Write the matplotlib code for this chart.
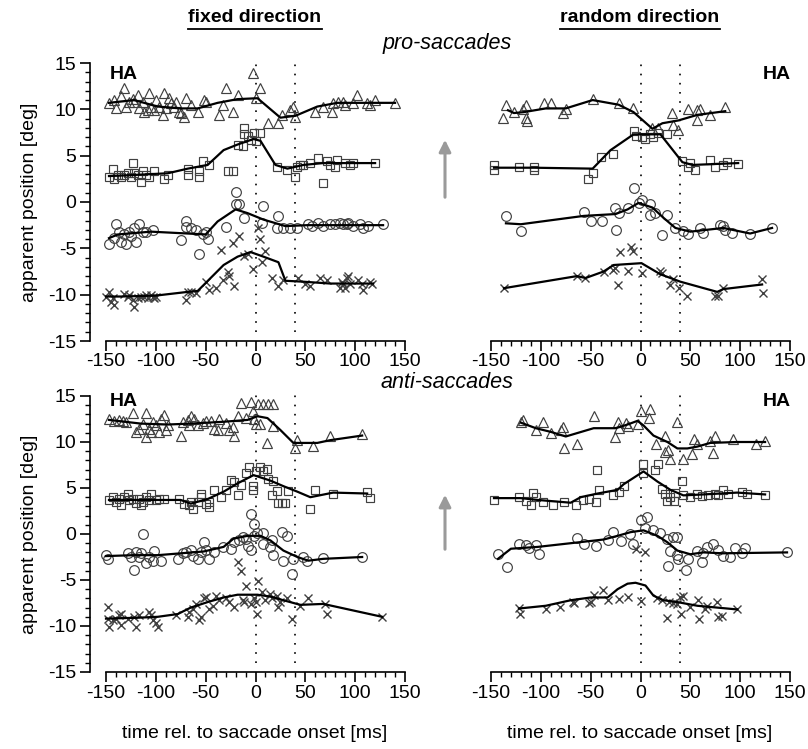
import matplotlib.pyplot as plt
from matplotlib.lines import Line2D
from matplotlib.patches import FancyArrowPatch
from matplotlib.ticker import MultipleLocator

plt.rcParams['font.family'] = ['Liberation Sans Narrow', 'Liberation Sans', 'DejaVu Sans']
plt.rcParams['axes.unicode_minus'] = False

# ---------------- pro-saccades, fixed direction (top left) ----------------
tl_tri = [(-147, 10.7), (-142, 11.0), (-140, 10.1), (-135, 11.4), (-132, 12.3), (-130, 10.3),
          (-127, 10.8), (-123, 11.1), (-122, 10.8), (-118, 11.6), (-117, 10.1), (-113, 10.8),
          (-112, 9.7), (-108, 9.9), (-107, 11.8), (-105, 10.3), (-102, 9.9), (-100, 11.0),
          (-97, 10.3), (-93, 9.4), (-92, 11.8), (-90, 10.1), (-87, 11.2), (-85, 10.7),
          (-82, 10.3), (-80, 10.8), (-77, 9.7), (-75, 9.6), (-72, 9.2), (-70, 11.2),
          (-65, 10.5), (-58, 9.7), (-52, 11.0), (-50, 10.8), (-37, 9.4), (-33, 10.5),
          (-30, 12.3), (-23, 9.7), (-18, 11.6), (-3, 13.9), (0, 11.2), (5, 12.3),
          (13, 8.5), (23, 8.5), (27, 9.4), (35, 9.9), (38, 10.3), (40, 9.2),
          (60, 9.7), (68, 10.3), (77, 9.7), (78, 10.7), (83, 10.8), (88, 10.8),
          (90, 10.5), (98, 10.7), (102, 11.6), (112, 10.7), (115, 10.5), (120, 11.0), (140, 10.7)]
tl_tri_fit = [(-147, 10.7), (-122, 11.0), (-98, 10.3), (-75, 10.1), (-58, 10.1), (-38, 10.7),
              (-18, 11.1), (2, 11.2), (25, 9.1), (40, 9.3), (62, 10.3), (82, 10.7), (140, 10.7)]
tl_sq = [(-147, 2.7), (-143, 3.6), (-142, 2.5), (-138, 2.9), (-135, 2.7), (-132, 2.9),
         (-128, 3.1), (-125, 2.7), (-123, 4.2), (-122, 3.1), (-118, 2.9), (-115, 2.2),
         (-113, 3.3), (-110, 2.9), (-107, 2.7), (-102, 3.3), (-92, 2.5), (-88, 2.9),
         (-68, 3.6), (-68, 2.9), (-57, 3.3), (-57, 2.7), (-53, 4.4), (-47, 4.0),
         (-28, 3.3), (-23, 3.3), (-18, 6.2), (-13, 6.0), (-12, 8.0), (-12, 7.3),
         (-8, 7.1), (-5, 6.7), (-2, 7.5), (5, 7.5), (0, 6.6), (22, 3.8), (32, 3.4),
         (40, 2.7), (42, 3.8), (45, 4.0), (48, 4.0), (55, 4.2), (63, 4.7), (68, 2.1),
         (72, 4.4), (75, 4.0), (80, 3.8), (82, 4.5), (90, 4.2), (95, 4.0), (98, 4.2), (120, 4.2)]
tl_sq_fit = [(-147, 2.8), (-125, 2.9), (-88, 3.1), (-68, 3.6), (-48, 4.0), (-32, 5.6),
             (-18, 6.2), (-2, 6.8), (5, 6.6), (20, 4.0), (32, 3.6), (48, 4.0), (68, 4.2), (120, 4.2)]
tl_circ = [(-20, 1.1), (-20, -0.2), (-17, -0.2), (-12, -1.7), (-30, -2.7), (-57, -5.6),
           (-70, -2.0), (-70, -2.7), (-75, -4.1), (-65, -2.8), (-60, -3.0), (-53, -3.5),
           (-50, -3.2), (-48, -4.0), (-140, -2.4), (-147, -4.5), (-142, -3.9), (-137, -3.2),
           (-135, -4.3), (-132, -3.4), (-130, -4.5), (-127, -3.2), (-125, -3.7), (-122, -2.8),
           (-120, -4.3), (-117, -2.4), (-113, -3.2), (-110, -3.2), (-103, -3.0), (8, -0.4),
           (7, -2.3), (23, -1.5), (22, -2.8), (28, -2.8), (35, -2.8), (42, -2.8), (53, -2.4),
           (57, -2.6), (63, -2.3), (68, -2.6), (75, -2.4), (80, -2.4), (85, -2.3), (88, -2.4),
           (92, -2.4), (93, -2.3), (98, -2.6), (105, -2.4), (108, -2.8), (113, -2.6), (128, -2.4)]
tl_circ_fit = [(-147, -3.9), (-138, -3.5), (-105, -3.2), (-50, -3.5), (-38, -2.1), (-20, -0.8),
               (-8, -1.2), (8, -1.9), (30, -2.6), (52, -2.5), (128, -2.5)]
tl_x = [(-150, -10.2), (-147, -9.7), (-145, -10.8), (-143, -10.4), (-142, -11.1), (-132, -9.9),
        (-128, -10.2), (-127, -10.0), (-123, -10.6), (-122, -11.3), (-118, -10.4), (-115, -10.2),
        (-112, -10.2), (-110, -10.0), (-108, -10.4), (-105, -10.0), (-103, -10.2), (-102, -10.4),
        (-100, -10.2), (-70, -10.6), (-68, -9.7), (-65, -9.7), (-60, -9.8), (-50, -8.6),
        (-47, -9.5), (-40, -9.3), (-35, -5.2), (-33, -8.4), (-28, -7.5), (-27, -8.0),
        (-23, -4.4), (-22, -9.1), (-17, -3.7), (-12, -5.8), (-8, -5.6), (-3, -7.2),
        (3, -2.8), (5, -4.0), (7, -6.5), (10, -5.3), (17, -8.2), (23, -9.1), (28, -8.4),
        (43, -8.2), (50, -8.9), (55, -9.1), (65, -8.2), (72, -8.4), (85, -9.3), (87, -8.6),
        (88, -8.9), (90, -9.3), (92, -8.2), (93, -8.0), (95, -8.8), (103, -8.4), (107, -8.9),
        (108, -9.5), (115, -8.6), (117, -8.9)]
tl_x_fit = [(-150, -10.2), (-135, -10.2), (-100, -10.1), (-68, -9.7), (-58, -9.6), (-45, -8.2),
            (-32, -6.8), (-18, -5.9), (-5, -5.4), (8, -5.9), (23, -6.5), (30, -8.5),
            (48, -8.6), (75, -8.8), (118, -8.8)]

# ---------------- pro-saccades, random direction (top right) ----------------
tr_tri = [(-138, 9.1), (-135, 10.5), (-127, 9.7), (-118, 10.0), (-115, 10.5), (-115, 9.1),
          (-114, 8.7), (-97, 10.7), (-90, 10.7), (-78, 9.6), (-75, 10.0), (-48, 11.1),
          (-22, 10.7), (-8, 10.1), (12, 8.0), (18, 8.0), (32, 9.6), (33, 8.3), (38, 7.8),
          (48, 10.0), (57, 9.9), (57, 8.9), (60, 10.0), (70, 9.4), (85, 10.2)]
tr_tri_fit = [(-133, 9.9), (-127, 9.6), (-117, 9.7), (-95, 10.1), (-75, 10.1), (-48, 11.0),
              (-22, 10.5), (-7, 9.7), (12, 7.9), (22, 8.5), (38, 8.8), (57, 9.4), (85, 9.8)]
tr_sq = [(-147, 4.0), (-147, 3.4), (-122, 3.8), (-107, 3.8), (-107, 3.5), (-53, 2.5),
         (-48, 3.1), (-40, 4.9), (-28, 5.2), (-7, 7.7), (-5, 7.1), (2, 7.0), (5, 6.8),
         (10, 7.3), (13, 7.0), (18, 7.4), (27, 7.3), (42, 4.4), (48, 3.8), (50, 4.2),
         (55, 3.4), (70, 4.5), (75, 3.8), (83, 4.0), (87, 4.3), (98, 4.1)]
tr_sq_fit = [(-147, 3.7), (-107, 3.7), (-48, 3.6), (-30, 5.6), (-7, 7.3), (3, 7.3), (20, 7.3),
             (42, 4.3), (52, 4.0), (98, 4.2)]
tr_circ = [(-7, 1.5), (-135, -1.5), (-120, -3.1), (-57, -1.1), (-50, -2.0), (-39, -2.0),
           (-26, -0.6), (-22, -1.2), (-25, -3.0), (-13, -0.6), (-2, -0.1), (2, 0.2),
           (10, -0.2), (10, -1.4), (15, -1.2), (22, -3.6), (27, -1.4), (35, -2.8), (43, -3.1),
           (48, -3.4), (60, -2.8), (63, -3.3), (80, -2.5), (83, -2.6), (85, -3.0), (92, -3.3),
           (110, -3.4), (132, -2.8)]
tr_circ_fit = [(-135, -2.3), (-120, -2.4), (-57, -1.5), (-25, -1.3), (-13, -0.8), (-2, -0.1),
               (12, -0.6), (23, -1.7), (35, -2.8), (50, -3.2), (83, -2.8), (110, -3.4), (132, -2.8)]
tr_x = [(-137, -9.3), (-64, -8.0), (-56, -8.2), (-37, -7.6), (-28, -7.3), (-26, -7.1),
        (-23, -9.0), (-21, -5.4), (-13, -7.4), (-10, -4.9), (-8, -5.3), (2, -7.7), (20, -7.4),
        (22, -7.7), (30, -9.0), (33, -8.3), (39, -9.3), (47, -10.1), (75, -10.1), (78, -10.1),
        (83, -9.3), (122, -8.3), (123, -9.8)]
tr_x_fit = [(-137, -9.3), (-64, -8.0), (-55, -8.2), (-37, -7.5), (-27, -6.8), (-13, -6.7),
            (1, -6.6), (20, -7.8), (40, -8.6), (77, -9.7), (83, -9.4), (122, -8.9)]

# ---------------- anti-saccades, fixed direction (bottom left) ----------------
bl_tri = [(-147, 12.5), (-142, 12.3), (-137, 12.4), (-133, 12.3), (-130, 12.2), (-123, 13.1),
          (-120, 11.1), (-117, 11.4), (-113, 12.0), (-110, 13.1), (-110, 10.5), (-107, 11.4),
          (-105, 11.1), (-103, 12.2), (-100, 11.8), (-97, 11.1), (-95, 12.5), (-92, 12.9),
          (-90, 11.3), (-88, 11.8), (-75, 10.6), (-73, 12.2), (-68, 12.4), (-67, 11.8),
          (-65, 12.8), (-62, 12.5), (-58, 11.8), (-53, 12.1), (-50, 12.3), (-45, 12.3),
          (-42, 11.4), (-38, 11.3), (-37, 12.5), (-30, 12.1), (-27, 11.3), (-23, 11.6),
          (-22, 10.7), (-18, 12.8), (-15, 14.2), (-10, 12.6), (-5, 14.3), (-3, 13.4),
          (-2, 12.5), (0, 12.0), (3, 14.1), (5, 12.0), (8, 14.1), (13, 14.1), (18, 14.1),
          (12, 9.9), (18, 11.7), (40, 9.3), (42, 10.2), (58, 9.6), (75, 10.7), (107, 10.9)]
bl_tri_fit = [(-147, 12.4), (-115, 12.0), (-88, 11.9), (-65, 12.0), (-32, 12.2), (-8, 12.4),
              (2, 12.8), (12, 12.6), (25, 11.3), (38, 9.9), (62, 9.9), (75, 10.2), (107, 10.7)]
bl_sq = [(-147, 3.7), (-143, 4.0), (-140, 3.5), (-137, 3.8), (-135, 3.2), (-132, 4.0),
         (-128, 4.4), (-127, 3.7), (-123, 3.8), (-120, 3.4), (-117, 3.8), (-115, 3.1),
         (-113, 3.5), (-110, 4.0), (-107, 3.7), (-105, 4.4), (-100, 3.7), (-97, 3.8),
         (-92, 3.8), (-77, 3.8), (-72, 3.3), (-67, 3.1), (-65, 3.5), (-63, 2.7), (-58, 3.5),
         (-55, 4.0), (-55, 4.4), (-50, 3.3), (-47, 3.5), (-47, 2.9), (-42, 4.8), (-35, 4.0),
         (-30, 4.8), (-25, 5.9), (-22, 5.6), (-18, 4.2), (-15, 5.3), (-10, 6.6), (-7, 7.3),
         (-3, 5.2), (-3, 4.8), (0, 6.9), (5, 7.3), (8, 6.9), (12, 7.1), (13, 6.0), (17, 4.2),
         (18, 5.8), (22, 4.7), (23, 3.4), (27, 3.4), (30, 3.4), (33, 4.7), (55, 2.7),
         (60, 4.8), (78, 4.4), (112, 4.6), (115, 3.9)]
bl_sq_fit = [(-147, 3.7), (-115, 3.7), (-88, 3.7), (-75, 3.7), (-65, 3.3), (-48, 3.8),
             (-32, 4.6), (-18, 5.5), (-2, 6.4), (15, 5.8), (28, 5.2), (42, 4.6), (55, 4.0),
             (78, 4.5), (112, 4.4)]
bl_circ = [(-150, -2.3), (-148, -2.7), (-128, -2.1), (-125, -2.5), (-122, -3.9), (-120, -2.0),
           (-117, -2.5), (-115, -2.1), (-113, 0.0), (-110, -3.1), (-107, -2.5), (-103, -2.9),
           (-102, -1.8), (-95, -2.9), (-78, -2.7), (-73, -2.1), (-70, -2.0), (-65, -1.7),
           (-63, -2.4), (-58, -2.7), (-55, -2.0), (-52, -0.9), (-50, -1.7), (-47, -2.7),
           (-42, -2.0), (-33, -1.4), (-25, -1.6), (-22, -0.9), (-17, -0.7), (-13, -0.3),
           (-10, -0.5), (-8, -1.3), (-5, -1.7), (-5, 2.2), (-2, 1.1), (-2, -0.2), (2, 0.1),
           (8, -1.1), (8, 0.1), (15, -1.4), (17, -0.7), (18, -2.3), (27, 0.2), (32, -0.2),
           (28, -2.9), (37, -4.3), (38, -2.7), (48, -2.5), (52, -2.9), (68, -2.6), (107, -2.5)]
bl_circ_fit = [(-150, -2.4), (-122, -2.3), (-98, -2.3), (-75, -2.1), (-52, -1.9), (-32, -1.4),
               (-22, -0.5), (-8, -0.2), (5, -0.2), (15, -0.7), (28, -1.8), (42, -2.5),
               (53, -2.9), (68, -2.7), (107, -2.5)]
bl_x = [(-148, -7.9), (-148, -9.2), (-147, -10.1), (-143, -9.4), (-140, -9.2), (-137, -8.8),
        (-135, -8.7), (-135, -9.9), (-128, -9.2), (-122, -9.0), (-120, -10.1), (-117, -8.8),
        (-107, -8.5), (-105, -8.8), (-103, -9.4), (-100, -9.7), (-98, -10.1), (-80, -8.8),
        (-68, -9.0), (-67, -8.5), (-63, -8.2), (-60, -7.6), (-57, -9.4), (-55, -9.0),
        (-52, -7.0), (-50, -6.8), (-47, -8.1), (-43, -7.8), (-40, -6.7), (-37, -7.2),
        (-30, -7.0), (-27, -7.4), (-22, -7.9), (-18, -3.0), (-15, -4.0), (-13, -7.2),
        (-12, -7.4), (-10, -5.6), (-5, -7.6), (-2, -7.0), (0, -7.4), (2, -8.7), (3, -5.1),
        (7, -6.3), (10, -7.2), (15, -6.5), (17, -7.0), (22, -6.7), (23, -7.9), (25, -7.4),
        (32, -7.0), (37, -9.2), (45, -7.8), (53, -7.0), (70, -7.6), (72, -8.7), (127, -9.0)]
bl_x_fit = [(-150, -9.2), (-118, -9.1), (-98, -9.0), (-78, -8.7), (-65, -8.0), (-48, -7.4),
            (-32, -6.9), (-18, -6.6), (2, -6.6), (15, -6.8), (28, -7.2), (45, -7.7),
            (68, -7.6), (127, -9.0)]

# ---------------- anti-saccades, random direction (bottom right) ----------------
br_tri = [(-120, 12.2), (-118, 12.4), (-105, 11.3), (-98, 12.2), (-90, 11.0), (-80, 11.3),
          (-78, 11.6), (-77, 9.3), (-64, 9.8), (-47, 12.8), (-26, 10.5), (-23, 12.2),
          (-22, 11.5), (-15, 12.1), (-13, 11.7), (-3, 12.0), (1, 13.4), (10, 13.6), (9, 12.6),
          (16, 9.8), (25, 10.6), (25, 8.9), (28, 9.1), (30, 8.2), (37, 12.2), (43, 8.2),
          (52, 8.7), (54, 10.3), (57, 9.8), (70, 10.1), (73, 8.8), (75, 10.6), (93, 10.3),
          (116, 9.8), (125, 10.1)]
br_tri_fit = [(-120, 12.1), (-105, 11.5), (-90, 11.1), (-75, 10.6), (-47, 11.5), (-25, 11.5),
              (-13, 11.9), (-3, 12.3), (3, 11.8), (13, 10.7), (27, 10.0), (37, 9.3), (47, 9.3),
              (57, 9.5), (70, 9.9), (97, 10.0), (125, 10.0)]
br_sq = [(-147, 3.7), (-122, 4.0), (-115, 3.6), (-108, 4.5), (-105, 4.0), (-110, 3.2),
         (-98, 3.5), (-88, 3.2), (-77, 3.5), (-65, 3.1), (-58, 3.7), (-52, 3.8), (-45, 3.5),
         (-42, 4.8), (-44, 7.0), (-28, 4.2), (-22, 4.6), (-17, 5.2), (3, 7.6), (3, 6.6),
         (15, 7.0), (18, 7.6), (22, 4.9), (25, 4.4), (27, 3.6), (30, 4.0), (34, 3.6), (35, 4.5),
         (42, 5.8), (43, 4.2), (50, 4.0), (57, 4.4), (62, 4.1), (68, 4.2), (75, 4.4),
         (78, 4.2), (83, 4.8), (88, 4.4), (102, 4.6), (107, 4.4), (125, 4.2)]
br_sq_fit = [(-147, 3.9), (-120, 3.9), (-103, 3.7), (-70, 3.4), (-60, 4.0), (-43, 4.4),
             (-23, 4.8), (-17, 5.4), (3, 6.8), (17, 5.7), (30, 4.8), (43, 4.2), (63, 4.3),
             (97, 4.5), (125, 4.3)]
br_circ = [(-143, -2.2), (-134, -3.6), (-122, -1.1), (-115, -1.2), (-112, -1.5), (-105, -1.2),
           (-102, -2.2), (-64, -0.4), (-57, -1.1), (-45, -1.3), (-33, -0.7), (-28, 0.2),
           (-20, -0.8), (-11, 0.0), (-8, -1.1), (0, 1.5), (7, 1.9), (5, 0.6), (13, 0.4),
           (20, 0.1), (27, -0.5), (30, -1.8), (28, -3.5), (33, -0.3), (37, -0.3), (37, -2.3),
           (38, -2.7), (46, -3.9), (48, -2.7), (57, -1.8), (62, -3.0), (63, -2.1), (67, -1.4),
           (73, -1.1), (78, -1.7), (83, -2.4), (90, -2.5), (95, -1.5), (102, -2.1), (105, -1.5),
           (147, -2.0)]
br_circ_fit = [(-143, -2.7), (-130, -1.6), (-103, -1.4), (-70, -1.0), (-37, -0.6), (-23, -0.2),
               (-10, 0.2), (3, 0.4), (17, -0.2), (27, -0.9), (37, -1.8), (50, -2.2),
               (63, -2.0), (83, -2.1), (147, -2.0)]
br_x = [(-122, -8.0), (-121, -8.7), (-95, -8.1), (-81, -7.9), (-68, -7.4), (-67, -7.5),
        (-52, -7.5), (-50, -7.4), (-47, -6.6), (-38, -6.1), (-33, -7.2), (-22, -7.1),
        (-13, -6.9), (-5, -1.6), (0, -7.3), (5, -2.0), (17, -7.0), (22, -7.2), (27, -9.1),
        (29, -7.4), (33, -7.5), (37, -7.6), (40, -6.9), (41, -8.7), (43, -6.7), (50, -7.9),
        (58, -7.2), (59, -9.2), (65, -8.1), (67, -7.8), (77, -7.4), (78, -9.0), (82, -8.9),
        (97, -8.1)]
br_x_fit = [(-122, -8.1), (-95, -7.8), (-70, -7.2), (-50, -6.9), (-33, -6.9), (-23, -6.0),
            (-13, -5.4), (-5, -5.3), (5, -5.6), (13, -6.7), (23, -7.2), (37, -7.4),
            (57, -7.8), (77, -8.0), (97, -8.2)]

x_ticks = [-150, -100, -50, 0, 50, 100, 150]
y_ticks = [-15, -10, -5, 0, 5, 10, 15]
onset_lines = [0, 40]

MARK = '#404040'
STYLES = [('^', 7), ('s', 6), ('o', 7), ('x', 6)]


def draw_panel(ax, groups, show_y, ha_left, ha_y):
    for (pts, fit), (m, ms) in zip(groups, STYLES):
        xs = [p[0] for p in pts]
        ys = [p[1] for p in pts]
        if m == 'x':
            ax.plot(xs, ys, 'x', color=MARK, ms=ms, mew=1.0, clip_on=False, zorder=2)
        else:
            ax.plot(xs, ys, m, mfc='none', mec=MARK, ms=ms, mew=0.85, clip_on=False, zorder=2)
        ax.plot([p[0] for p in fit], [p[1] for p in fit], '-', color='black', lw=1.6,
                clip_on=False, zorder=3)
    for t in onset_lines:
        ax.plot([t, t], [-14.0, 15.6], color='black', lw=1.2, ls=(0, (1, 4.5)),
                clip_on=False, zorder=1)

    ax.set_xlim(-150, 150)
    ax.set_ylim(-15, 15)
    ax.spines['top'].set_visible(False)
    ax.spines['right'].set_visible(False)
    ax.spines['bottom'].set_bounds(-150, 150)
    ax.spines['bottom'].set_linewidth(1.2)
    ax.xaxis.set_major_locator(plt.FixedLocator(x_ticks))
    ax.xaxis.set_minor_locator(MultipleLocator(10))
    ax.tick_params(axis='x', which='major', direction='out', length=7, width=1.2,
                   labelsize=14, pad=2)
    ax.tick_params(axis='x', which='minor', direction='out', length=3.5, width=1.0)
    if show_y:
        ax.spines['left'].set_position(('outward', 11.5))
        ax.spines['left'].set_bounds(-15, 15)
        ax.spines['left'].set_linewidth(1.2)
        ax.yaxis.set_major_locator(plt.FixedLocator(y_ticks))
        ax.yaxis.set_minor_locator(MultipleLocator(1))
        ax.tick_params(axis='y', which='major', direction='out', length=7, width=1.2,
                       labelsize=14, pad=3)
        ax.tick_params(axis='y', which='minor', direction='out', length=3.5, width=1.0)
    else:
        ax.spines['left'].set_visible(False)
        ax.set_yticks([])
    ax.patch.set_visible(False)

    if ha_left:
        ax.text(-146, ha_y, 'HA', ha='left', va='center', fontsize=14, fontweight='bold')
    else:
        ax.text(151, ha_y, 'HA', ha='right', va='center', fontsize=14, fontweight='bold')


def main():
    W, H = 808, 749
    fig = plt.figure(figsize=(W / 100, H / 100), dpi=100)

    def box(left_px, top_px, bottom_px):
        return [left_px / W, 1 - bottom_px / H, 299 / W, (bottom_px - top_px) / H]

    top_rows = (63, 341)
    bot_rows = (396, 672)
    ax_tl = fig.add_axes(box(106, *top_rows))
    ax_tr = fig.add_axes(box(491, *top_rows))
    ax_bl = fig.add_axes(box(106, *bot_rows))
    ax_br = fig.add_axes(box(491, *bot_rows))

    draw_panel(ax_tl, [(tl_tri, tl_tri_fit), (tl_sq, tl_sq_fit), (tl_circ, tl_circ_fit),
                       (tl_x, tl_x_fit)], True, True, 13.8)
    draw_panel(ax_tr, [(tr_tri, tr_tri_fit), (tr_sq, tr_sq_fit), (tr_circ, tr_circ_fit),
                       (tr_x, tr_x_fit)], False, False, 13.8)
    draw_panel(ax_bl, [(bl_tri, bl_tri_fit), (bl_sq, bl_sq_fit), (bl_circ, bl_circ_fit),
                       (bl_x, bl_x_fit)], True, True, 14.4)
    draw_panel(ax_br, [(br_tri, br_tri_fit), (br_sq, br_sq_fit), (br_circ, br_circ_fit),
                       (br_x, br_x_fit)], False, False, 14.4)

    # column headers (bold, underlined)
    heads = []
    for xc, label in [(255, 'fixed direction'), (640, 'random direction')]:
        heads.append(fig.text(xc / W, 1 - 18 / H, label, ha='center', va='center',
                              fontsize=14, fontweight='bold'))
    fig.text(447 / W, 1 - 44 / H, 'pro-saccades', ha='center', va='center',
             fontsize=15.5, style='italic')
    fig.text(447 / W, 1 - 382 / H, 'anti-saccades', ha='center', va='center',
             fontsize=15.5, style='italic')

    for rows in [top_rows, bot_rows]:
        fig.text(30 / W, 1 - sum(rows) / 2 / H, 'apparent position [deg]', rotation=90,
                 ha='center', va='center', fontsize=14)
    for xc in [255, 640]:
        fig.text(xc / W, 1 - 734 / H, 'time rel. to saccade onset [ms]', ha='center',
                 va='center', fontsize=14)

    # grey direction arrows between the columns
    for y0, y1 in [(200, 137), (552, 492)]:
        fig.add_artist(FancyArrowPatch((445 / W, 1 - y0 / H), (445 / W, 1 - y1 / H),
                                       transform=fig.transFigure,
                                       arrowstyle='-|>,head_length=7,head_width=3.5',
                                       lw=2.2, color='#9a9a9a', mutation_scale=1))

    fig.canvas.draw()
    r = fig.canvas.get_renderer()
    for t in heads:
        bb = t.get_window_extent(r).transformed(fig.transFigure.inverted())
        fig.add_artist(Line2D([bb.x0, bb.x1], [bb.y0 - 0.004, bb.y0 - 0.004],
                              transform=fig.transFigure, color='black', lw=1.3))

    fig.savefig('out.png', dpi=100)
    plt.close(fig)


if __name__ == '__main__':
    main()
